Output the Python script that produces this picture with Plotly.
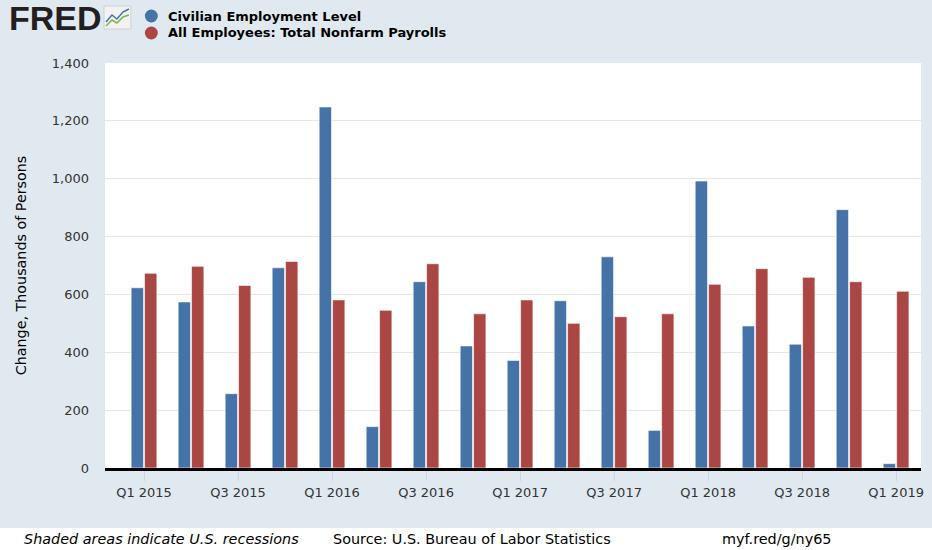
import plotly.graph_objects as go

quarters = ["Q1 2015", "Q2 2015", "Q3 2015", "Q4 2015",
            "Q1 2016", "Q2 2016", "Q3 2016", "Q4 2016",
            "Q1 2017", "Q2 2017", "Q3 2017", "Q4 2017",
            "Q1 2018", "Q2 2018", "Q3 2018", "Q4 2018",
            "Q1 2019"]

civilian = [623, 574, 257, 692, 1248, 143, 644, 422, 372, 578, 730, 130,
            992, 491, 428, 893, 15]
nonfarm = [673, 697, 631, 714, 581, 545, 706, 533, 581, 500, 523, 533,
           635, 689, 659, 644, 611]

series_names = ["Civilian Employment Level", "All Employees: Total Nonfarm Payrolls"]

tick_pos = list(range(0, 17, 2))
tick_txt = [quarters[i] for i in tick_pos]

blue = "#4572a7"
red = "#aa4643"
font = "DejaVu Sans"

# plot area in pixels: left 105, right 924, top 63, bottom 468
L, W, T, H = 105, 819, 63, 405


def px(xp):
    return (xp - L) / W


def py(yp):
    return (T + H - yp) / H


x = list(range(len(quarters)))

fig = go.Figure()
fig.add_trace(go.Bar(x=x, y=civilian, marker_color=blue, name=series_names[0], showlegend=False,
                     marker_line=dict(color="rgba(255,255,255,0.6)", width=1)))
fig.add_trace(go.Bar(x=x, y=nonfarm, marker_color=red, name=series_names[1], showlegend=False,
                     marker_line=dict(color="rgba(255,255,255,0.6)", width=1)))

fig.update_layout(
    width=932, height=550,
    margin=dict(l=L, r=932 - L - W, t=T, b=550 - T - H),
    paper_bgcolor="#e1e9f0",
    plot_bgcolor="#ffffff",
    barmode="group",
    bargap=0.43,
    bargroupgap=0.08,
    font=dict(family=font, size=13, color="#333333"),
)

fig.update_xaxes(
    range=[-0.83, 16.53],
    tickmode="array", tickvals=tick_pos, ticktext=tick_txt,
    ticks="outside", ticklen=10, tickcolor="#ccd6eb", tickwidth=1,
    showgrid=False, zeroline=False,
    showline=True, linecolor="#000000", linewidth=3,
    tickfont=dict(family=font, size=13, color="#333333"),
)
fig.update_yaxes(
    range=[0, 1400], dtick=200, tickformat=",",
    showgrid=True, gridcolor="#e6e6e6", gridwidth=1,
    zeroline=False, showline=False,
    ticks="", ticklabelstandoff=15,
    tickfont=dict(family=font, size=13, color="#333333"),
    title=dict(text="Change, Thousands of Persons", standoff=21,
               font=dict(family=font, size=14.3, color="#000000")),
)

# legend drawn FRED-style: round swatches + bold labels
for i, (nm, col) in enumerate(zip(series_names, [blue, red])):
    yc = 16 + 17 * i
    fig.add_shape(type="circle", xref="paper", yref="paper",
                  x0=px(145), x1=px(158), y0=py(yc + 6.5), y1=py(yc - 6.5),
                  fillcolor=col, line_width=0)
    fig.add_annotation(text="<b>" + nm + "</b>", xref="paper", yref="paper",
                       x=px(166), y=py(yc), xanchor="left", yanchor="middle",
                       showarrow=False, font=dict(family=font, size=13, color="#000000"))

# footer band
fig.add_shape(type="rect", xref="paper", yref="paper", x0=-0.2, x1=1.1,
              y0=py(528), y1=py(560), fillcolor="#ffffff", line_width=0, layer="below")
footer = [("<i>Shaded areas indicate U.S. recessions</i>", 22),
          ("Source: U.S. Bureau of Labor Statistics", 332),
          ("myf.red/g/ny65", 722)]
for txt, xp in footer:
    fig.add_annotation(text=txt, xref="paper", yref="paper",
                       x=px(xp), y=py(539), xanchor="left", yanchor="middle",
                       showarrow=False, font=dict(family=font, size=14.4, color="#000000"))

# FRED logo
fig.add_annotation(text="<b>FRED</b>", xref="paper", yref="paper",
                   x=px(7), y=py(18), xanchor="left", yanchor="middle",
                   showarrow=False, font=dict(family="Liberation Sans", size=34, color="#231f20"))
fig.add_shape(type="rect", xref="paper", yref="paper",
              x0=px(104), x1=px(131), y0=py(29), y1=py(6),
              fillcolor="#f2f2f2", line=dict(color="#d0d0d0", width=1))
fig.add_shape(type="path", xref="paper", yref="paper",
              path="M {} {} L {} {} L {} {} L {} {} L {} {}".format(
                  px(106), py(22), px(112), py(15), px(117), py(19), px(123), py(12), px(129), py(9)),
              line=dict(color="#4572a7", width=1.5))
fig.add_shape(type="path", xref="paper", yref="paper",
              path="M {} {} L {} {} L {} {} L {} {} L {} {}".format(
                  px(106), py(26), px(112), py(20), px(117), py(23), px(123), py(17), px(129), py(15)),
              line=dict(color="#7ab648", width=1.5))

fig.write_html("out.html", config={"displayModeBar": False},
               post_script="document.body.style.margin='0';")
